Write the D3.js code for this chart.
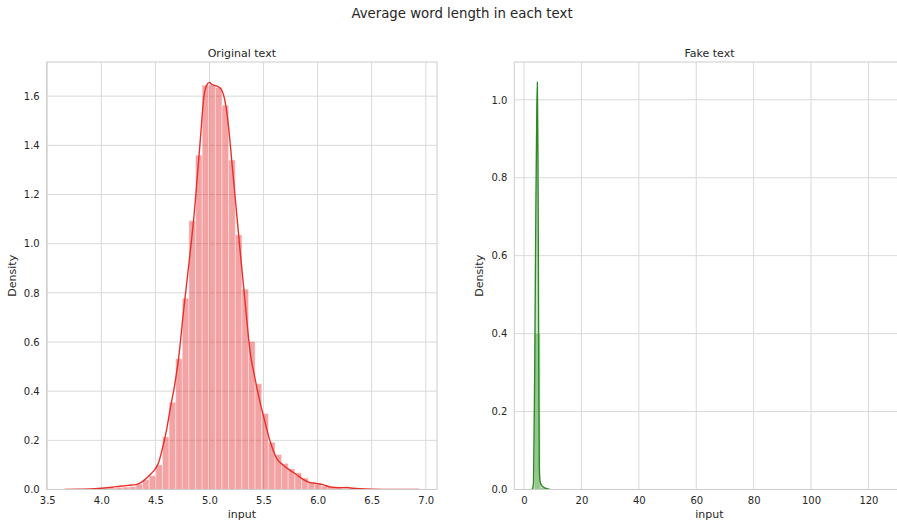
<!DOCTYPE html>
<html lang="en">
<head>
<meta charset="UTF-8">
<title>Average word length in each text</title>
<script src="https://cdn.jsdelivr.net/npm/d3@7"></script>
<style>
  body { margin: 0; background: #fff; }
  text { font-family: "DejaVu Sans", sans-serif; fill: #262626; }
</style>
</head>
<body>
<div id="chart"></div>
<script>
// values
const origBinLeft = [3.770, 3.831, 3.892, 3.954, 4.015, 4.076, 4.137, 4.198, 4.260, 4.321,
  4.382, 4.443, 4.504, 4.566, 4.627, 4.688, 4.749, 4.810, 4.872, 4.933,
  4.994, 5.055, 5.116, 5.178, 5.239, 5.300, 5.361, 5.422, 5.484, 5.545,
  5.606, 5.667, 5.728, 5.790, 5.851, 5.912, 5.973, 6.034, 6.096, 6.157,
  6.218, 6.279, 6.340, 6.402, 6.463, 6.524, 6.585, 6.647, 6.708, 6.769];
const origBinWidth = 0.0612;
const origDensity = [0.002, 0, 0.002, 0.002, 0.004, 0.006, 0.008, 0.010, 0.012, 0.022,
  0.040, 0.056, 0.100, 0.214, 0.355, 0.532, 0.778, 1.093, 1.360, 1.645,
  1.645, 1.635, 1.563, 1.340, 1.036, 0.815, 0.602, 0.430, 0.309, 0.192,
  0.142, 0.106, 0.084, 0.068, 0.047, 0.030, 0.022, 0.014, 0.009, 0.006,
  0.005, 0.004, 0.002, 0.002, 0.001, 0, 0.001, 0, 0, 0.001];
const origKdeX = [3.66, 3.80, 3.90, 4.00, 4.10, 4.174, 4.25, 4.328, 4.38, 4.42,
  4.46, 4.497, 4.53, 4.559, 4.60, 4.636, 4.68, 4.713, 4.759, 4.80,
  4.852, 4.914, 4.95, 4.975, 5.0, 5.02, 5.037, 5.083, 5.114, 5.145,
  5.175, 5.207, 5.247, 5.284, 5.33, 5.376, 5.422, 5.46, 5.50, 5.561,
  5.623, 5.68, 5.746, 5.80, 5.87, 5.93, 6.00, 6.05, 6.116, 6.20,
  6.27, 6.33, 6.39, 6.50, 6.70, 6.94];
const origKdeY = [0, 0.001, 0.002, 0.005, 0.009, 0.013, 0.017, 0.021, 0.032, 0.047,
  0.064, 0.083, 0.110, 0.156, 0.235, 0.325, 0.430, 0.528, 0.720, 0.880,
  1.090, 1.414, 1.604, 1.645, 1.656, 1.648, 1.645, 1.638, 1.624, 1.577,
  1.482, 1.333, 1.144, 0.968, 0.760, 0.560, 0.450, 0.370, 0.298, 0.196,
  0.125, 0.100, 0.078, 0.062, 0.040, 0.028, 0.024, 0.020, 0.010, 0.007,
  0.008, 0.005, 0.003, 0.001, 0, 0];
const origXTicks = [3.5, 4.0, 4.5, 5.0, 5.5, 6.0, 6.5, 7.0];
const origYTicks = [0, 0.2, 0.4, 0.6, 0.8, 1.0, 1.2, 1.4, 1.6];

const fakeBinLeft = [3.59, 5.68, 7.77];
const fakeBinWidth = 2.09;
const fakeDensity = [0.40, 0.004, 0.001];
const fakeKdeX = [2.66, 3.0, 3.3, 3.7, 4.1, 4.45, 4.64, 4.85, 5.0, 5.15,
  5.33, 5.6, 6.15, 7.0, 7.9, 9.0];
const fakeKdeY = [0, 0.003, 0.02, 0.30, 0.70, 0.98, 1.045, 0.85, 0.55, 0.25,
  0.05, 0.02, 0.01, 0.005, 0.002, 0];
const fakeXTicks = [0, 20, 40, 60, 80, 100, 120];
const fakeYTicks = [0, 0.2, 0.4, 0.6, 0.8, 1.0];

const W = 897, H = 522;
const svg = d3.select("#chart").append("svg")
    .attr("width", W)
    .attr("height", H);

svg.append("text")
    .attr("x", 462)
    .attr("y", 18)
    .attr("text-anchor", "middle")
    .style("font-size", "13.3px")
    .text("Average word length in each text");

function drawPanel(p, id) {
    const x = d3.scaleLinear().domain(p.xDomain).range([p.left, p.right]);
    const y = d3.scaleLinear().domain(p.yDomain).range([p.bottom, p.top]);
    const g = svg.append("g");

    // clip marks to the axes box, like matplotlib
    g.append("clipPath").attr("id", id)
      .append("rect")
        .attr("x", p.left).attr("y", p.top)
        .attr("width", p.right - p.left).attr("height", p.bottom - p.top);

    // grid
    g.selectAll(".vg").data(p.xTicks).join("line")
        .attr("x1", d => x(d)).attr("x2", d => x(d))
        .attr("y1", p.top).attr("y2", p.bottom)
        .attr("stroke", "#d9d9d9").attr("stroke-width", 1);
    g.selectAll(".hg").data(p.yTicks).join("line")
        .attr("x1", p.left).attr("x2", p.right)
        .attr("y1", d => y(d)).attr("y2", d => y(d))
        .attr("stroke", "#d9d9d9").attr("stroke-width", 1);

    const marks = g.append("g").attr("clip-path", `url(#${id})`);

    // histogram bars
    const bins = p.binLeft.map((b, i) => ({ x0: b, x1: b + p.binWidth, d: p.density[i] }));
    marks.selectAll(".bar").data(bins.filter(b => b.d > 0)).join("rect")
        .attr("x", b => x(b.x0))
        .attr("width", b => x(b.x1) - x(b.x0))
        .attr("y", b => y(b.d))
        .attr("height", b => y(0) - y(b.d))
        .attr("fill", p.color).attr("fill-opacity", 0.4)
        .attr("stroke", "#fff").attr("stroke-opacity", 0.4).attr("stroke-width", 1);

    // kde
    const pts = p.kdeX.map((v, i) => [v, p.kdeY[i]]);
    if (p.shade) {
        marks.append("path")
            .datum(pts)
            .attr("d", d3.area().x(d => x(d[0])).y0(y(0)).y1(d => y(d[1])).curve(d3.curveMonotoneX))
            .attr("fill", p.color).attr("fill-opacity", 0.25);
    }
    marks.append("path")
        .datum(pts)
        .attr("d", d3.line().x(d => x(d[0])).y(d => y(d[1])).curve(d3.curveMonotoneX))
        .attr("fill", "none")
        .attr("stroke", p.lineColor)
        .attr("stroke-width", 1.4);

    // frame
    g.append("rect")
        .attr("x", p.left).attr("y", p.top)
        .attr("width", p.right - p.left).attr("height", p.bottom - p.top)
        .attr("fill", "none").attr("stroke", "#cccccc").attr("stroke-width", 1);

    // axes
    const xa = g.append("g")
        .attr("transform", `translate(0,${p.bottom})`)
        .call(d3.axisBottom(x).tickValues(p.xTicks).tickSize(0).tickPadding(7).tickFormat(p.xFormat));
    const ya = g.append("g")
        .attr("transform", `translate(${p.left},0)`)
        .call(d3.axisLeft(y).tickValues(p.yTicks).tickSize(0).tickPadding(7).tickFormat(d3.format(".1f")));
    [xa, ya].forEach(a => {
        a.select(".domain").remove();
        a.selectAll("text").style("font-size", "10px").style("font-family", "DejaVu Sans").attr("fill", "#262626");
    });

    const cx = (p.left + p.right) / 2;
    g.append("text")
        .attr("x", cx).attr("y", 57)
        .attr("text-anchor", "middle")
        .style("font-size", "11px")
        .text(p.title);
    g.append("text")
        .attr("x", cx).attr("y", 517.5)
        .attr("text-anchor", "middle")
        .style("font-size", "11px")
        .text("input");
    g.append("text")
        .attr("transform", `translate(${p.left - 31},${(p.top + p.bottom) / 2}) rotate(-90)`)
        .attr("text-anchor", "middle")
        .style("font-size", "11px")
        .text("Density");
}

drawPanel({
    title: "Original text",
    left: 46.7, right: 437, top: 62, bottom: 489.5,
    xDomain: [3.495, 7.104], yDomain: [0, 1.739],
    xTicks: origXTicks, yTicks: origYTicks, xFormat: d3.format(".1f"),
    binLeft: origBinLeft, binWidth: origBinWidth, density: origDensity,
    kdeX: origKdeX, kdeY: origKdeY,
    color: "#e41a1c", lineColor: "#e8302a", shade: false
}, "clip-orig");

drawPanel({
    title: "Fake text",
    left: 514.3, right: 904.6, top: 62, bottom: 489.5,
    xDomain: [-3.4, 132.6], yDomain: [0, 1.097],
    xTicks: fakeXTicks, yTicks: fakeYTicks, xFormat: d3.format("d"),
    binLeft: fakeBinLeft, binWidth: fakeBinWidth, density: fakeDensity,
    kdeX: fakeKdeX, kdeY: fakeKdeY,
    color: "#3f9a35", lineColor: "#2f8a26", shade: true
}, "clip-fake");
</script>
</body>
</html>
